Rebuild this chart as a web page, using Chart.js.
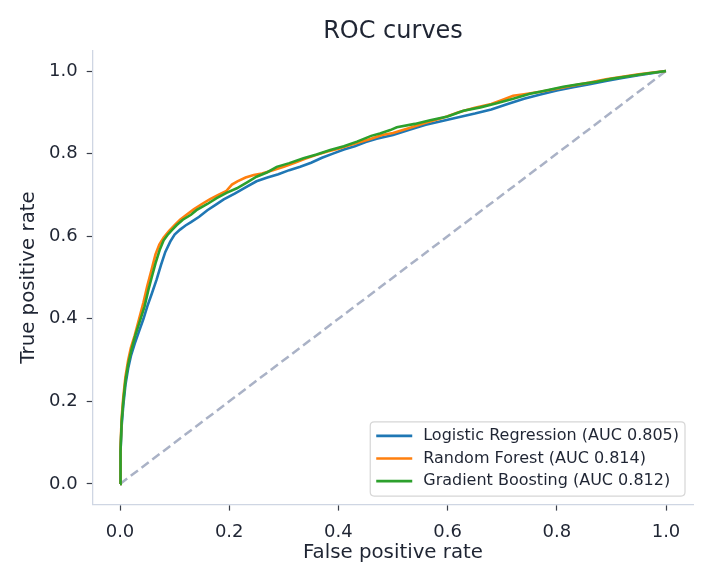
<!DOCTYPE html>
<html>
<head>
<meta charset="utf-8">
<script src="https://cdn.jsdelivr.net/npm/chart.js@4/dist/chart.umd.min.js"></script>
<style>
  html, body { margin: 0; padding: 0; background: #ffffff; }
  #wrap { width: 715px; height: 585px; }
</style>
</head>
<body>
<div id="wrap"><canvas id="c" width="715" height="585"></canvas></div>
<script>
// ---- Data ----
const seriesLabels = [
  "Logistic Regression (AUC 0.805)",
  "Random Forest (AUC 0.814)",
  "Gradient Boosting (AUC 0.812)"
];
const seriesColors = ["#1f77b4", "#ff7f0e", "#2ca02c"];

const lrFpr = [0, 0.001, 0.003, 0.006, 0.01, 0.015, 0.02, 0.027, 0.035, 0.043, 0.05, 0.058, 0.067, 0.075, 0.083, 0.092, 0.1, 0.11, 0.12, 0.13, 0.145, 0.16, 0.175, 0.19, 0.21, 0.23, 0.25, 0.27, 0.29, 0.31, 0.33, 0.35, 0.37, 0.39, 0.41, 0.43, 0.45, 0.47, 0.5, 0.53, 0.56, 0.59, 0.62, 0.65, 0.68, 0.71, 0.74, 0.77, 0.8, 0.83, 0.86, 0.89, 0.92, 0.95, 0.98, 1.0];
const lrTpr = [0, 0.08, 0.14, 0.19, 0.24, 0.28, 0.31, 0.34, 0.37, 0.40, 0.43, 0.46, 0.495, 0.53, 0.562, 0.587, 0.604, 0.616, 0.626, 0.634, 0.647, 0.663, 0.676, 0.689, 0.703, 0.718, 0.733, 0.742, 0.75, 0.76, 0.768, 0.778, 0.79, 0.8, 0.81, 0.818, 0.828, 0.836, 0.845, 0.858, 0.87, 0.879, 0.888, 0.897, 0.907, 0.92, 0.933, 0.943, 0.953, 0.961, 0.968, 0.976, 0.983, 0.99, 0.996, 1.0];

const rfFpr = [0, 0.001, 0.003, 0.006, 0.01, 0.015, 0.02, 0.027, 0.035, 0.043, 0.05, 0.058, 0.065, 0.072, 0.08, 0.09, 0.1, 0.11, 0.12, 0.135, 0.15, 0.165, 0.18, 0.195, 0.205, 0.215, 0.23, 0.245, 0.26, 0.28, 0.3, 0.32, 0.34, 0.36, 0.38, 0.4, 0.42, 0.44, 0.46, 0.48, 0.5, 0.53, 0.56, 0.59, 0.62, 0.65, 0.68, 0.7, 0.72, 0.74, 0.77, 0.8, 0.83, 0.86, 0.89, 0.92, 0.95, 0.98, 1.0];
const rfTpr = [0, 0.09, 0.16, 0.21, 0.26, 0.3, 0.33, 0.36, 0.4, 0.44, 0.48, 0.52, 0.556, 0.58, 0.597, 0.613, 0.627, 0.64, 0.65, 0.665, 0.678, 0.69, 0.7, 0.71, 0.725, 0.733, 0.742, 0.748, 0.752, 0.76, 0.768, 0.778, 0.788, 0.797, 0.805, 0.812, 0.82, 0.828, 0.836, 0.845, 0.85, 0.862, 0.875, 0.886, 0.9, 0.911, 0.92, 0.93, 0.94, 0.944, 0.95, 0.957, 0.965, 0.972, 0.98, 0.986, 0.992, 0.997, 1.0];

const gbFpr = [0, 0.001, 0.003, 0.006, 0.01, 0.015, 0.021, 0.028, 0.037, 0.045, 0.052, 0.058, 0.065, 0.073, 0.08, 0.087, 0.095, 0.104, 0.115, 0.13, 0.14, 0.16, 0.177, 0.195, 0.214, 0.232, 0.25, 0.27, 0.287, 0.31, 0.336, 0.36, 0.385, 0.41, 0.434, 0.46, 0.476, 0.495, 0.507, 0.54, 0.568, 0.6, 0.629, 0.66, 0.69, 0.72, 0.751, 0.78, 0.812, 0.84, 0.873, 0.9, 0.934, 0.965, 1.0];
const gbTpr = [0, 0.08, 0.15, 0.2, 0.25, 0.29, 0.325, 0.36, 0.397, 0.43, 0.47, 0.5, 0.534, 0.568, 0.59, 0.603, 0.615, 0.627, 0.64, 0.652, 0.663, 0.678, 0.692, 0.705, 0.716, 0.73, 0.744, 0.755, 0.768, 0.777, 0.789, 0.798, 0.809, 0.818, 0.829, 0.843, 0.849, 0.857, 0.864, 0.872, 0.881, 0.89, 0.904, 0.912, 0.922, 0.933, 0.945, 0.953, 0.962, 0.968, 0.974, 0.981, 0.988, 0.994, 1.0];

const chanceX = [0, 1];
const chanceY = [0, 1];

const tickValues = [0, 0.2, 0.4, 0.6, 0.8, 1.0];

// ---- Chart ----
const FONT = "'DejaVu Sans', 'Liberation Sans', sans-serif";
const TEXT = "#1f2533";

function pts(xs, ys) { return xs.map((x, i) => ({ x: x, y: ys[i] })); }

const curveSets = [[lrFpr, lrTpr], [rfFpr, rfTpr], [gbFpr, gbTpr]];
const datasets = curveSets.map((s, i) => ({
  label: seriesLabels[i],
  data: pts(s[0], s[1]),
  borderColor: seriesColors[i],
  backgroundColor: seriesColors[i],
  borderWidth: 2.6,
  pointRadius: 0,
  tension: 0,
  fill: false,
  order: 3 - i
}));
datasets.push({
  label: "chance",
  data: pts(chanceX, chanceY),
  borderColor: "#aab2c6",
  borderWidth: 2.5,
  borderDash: [9, 4.5],
  pointRadius: 0,
  fill: false,
  order: 10,
  isChance: true
});

const legendPlugin = {
  id: "insideLegend",
  afterDatasetsDraw(chart) {
    const ctx = chart.ctx;
    const ca = chart.chartArea;
    const items = chart.data.datasets.filter(d => !d.isChance);
    ctx.save();
    ctx.font = "16px " + FONT;
    let tw = 0;
    items.forEach(d => { tw = Math.max(tw, ctx.measureText(d.label).width); });
    const padL = 6, lineLen = 36, gap = 11, padR = 6, rowH = 22.6;
    const w = padL + lineLen + gap + tw + padR;
    const h = 14 + rowH * (items.length - 1) + 15;
    const x0 = ca.right - 8.3 - w;
    const y0 = ca.bottom - 8.5 - h;
    const r = 4;
    ctx.beginPath();
    ctx.moveTo(x0 + r, y0);
    ctx.lineTo(x0 + w - r, y0);
    ctx.quadraticCurveTo(x0 + w, y0, x0 + w, y0 + r);
    ctx.lineTo(x0 + w, y0 + h - r);
    ctx.quadraticCurveTo(x0 + w, y0 + h, x0 + w - r, y0 + h);
    ctx.lineTo(x0 + r, y0 + h);
    ctx.quadraticCurveTo(x0, y0 + h, x0, y0 + h - r);
    ctx.lineTo(x0, y0 + r);
    ctx.quadraticCurveTo(x0, y0, x0 + r, y0);
    ctx.closePath();
    ctx.fillStyle = "rgba(255,255,255,0.85)";
    ctx.fill();
    ctx.strokeStyle = "#d6d6d6";
    ctx.lineWidth = 1.2;
    ctx.stroke();
    items.forEach((d, i) => {
      const cy = y0 + 14 + rowH * i;
      ctx.beginPath();
      ctx.moveTo(x0 + padL, cy);
      ctx.lineTo(x0 + padL + lineLen, cy);
      ctx.strokeStyle = d.borderColor;
      ctx.lineWidth = 2.6;
      ctx.stroke();
      ctx.fillStyle = TEXT;
      ctx.textBaseline = "middle";
      ctx.textAlign = "left";
      ctx.fillText(d.label, x0 + padL + lineLen + gap, cy);
    });
    ctx.restore();
  }
};

const axisCommon = {
  type: "linear",
  min: -0.05,
  max: 1.05,
  afterBuildTicks: (scale) => { scale.ticks = tickValues.map(v => ({ value: v })); },
  ticks: {
    color: TEXT,
    font: { family: FONT, size: 18 },
    padding: 11,
    autoSkip: false,
    maxRotation: 0,
    callback: (v) => Number(v).toFixed(1)
  },
  grid: {
    display: true,
    drawOnChartArea: false,
    drawTicks: true,
    tickLength: 6,
    tickWidth: 1.2,
    tickColor: "#3a3f4a"
  },
  border: { display: true, color: "#cfd6e3", width: 1.3 }
};

new Chart(document.getElementById("c"), {
  type: "line",
  data: { datasets: datasets },
  options: {
    responsive: false,
    animation: false,
    devicePixelRatio: 1,
    layout: { padding: { left: 0, right: 21.7, top: 0, bottom: 0 } },
    plugins: {
      legend: { display: false },
      tooltip: { enabled: false },
      title: {
        display: true,
        fullSize: false,
        text: "ROC curves",
        color: TEXT,
        font: { family: FONT, size: 24, weight: "normal", lineHeight: 1.2 },
        padding: { top: 17.2, bottom: 4.4 }
      }
    },
    scales: {
      x: Object.assign({}, axisCommon, {
        position: "bottom",
        afterFit: (s) => { s.height = 80.4; },
        title: {
          display: true,
          text: "False positive rate",
          color: TEXT,
          font: { family: FONT, size: 19.8, lineHeight: 1.2 },
          padding: { top: 0, bottom: 20 }
        }
      }),
      y: Object.assign({}, axisCommon, {
        position: "left",
        ticks: Object.assign({}, axisCommon.ticks, { padding: 9 }),
        afterFit: (s) => { s.width = 92.7; },
        title: {
          display: true,
          text: "True positive rate",
          color: TEXT,
          font: { family: FONT, size: 19.8, lineHeight: 1.2 },
          padding: { top: 17, bottom: 0 }
        }
      })
    }
  },
  plugins: [legendPlugin]
});
</script>
</body>
</html>
